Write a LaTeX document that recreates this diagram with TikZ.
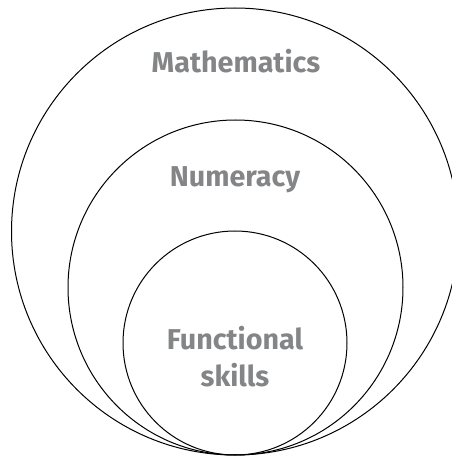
\documentclass[tikz,border=0pt]{standalone}
\usepackage{fontspec}
\setmainfont{Fira Sans}
\usetikzlibrary{positioning}
\definecolor{labelgray}{HTML}{848587}
\tikzset{
  ring/.style={draw,circle,line width=1pt,inner sep=0pt},
  setname/.style={text=labelgray,font=\bfseries\fontsize{28.7}{38}\selectfont,align=center,anchor=base}
}
\begin{document}
\begin{tikzpicture}[x=1pt,y=1pt]
\useasboundingbox (0,0) rectangle (452,456);
\node[ring,minimum size=447pt] (maths) at (235,224.5) {};
\node[ring,minimum size=335pt] (numeracy) at (235.5,168.5) {};
\node[ring,minimum size=224pt] (functional) at (235,113) {};
\node[setname] (mathslabel) at (236,383) {Mathematics};
\node[setname] (numeracylabel) at (235,269) {Numeracy};
\node[setname] (functionallabel) at (235,69) {Functional\\skills};
\end{tikzpicture}
\end{document}
